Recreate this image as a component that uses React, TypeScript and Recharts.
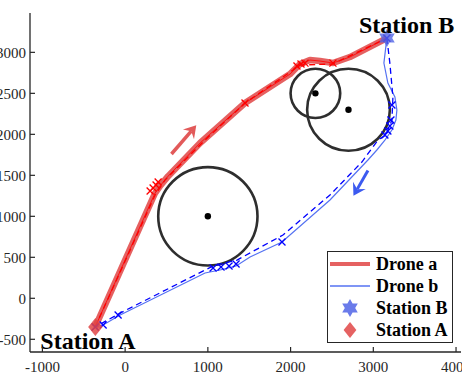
import {
  ComposedChart,
  Line,
  ReferenceArea,
  ReferenceLine,
  Scatter,
  XAxis,
  YAxis,
} from 'recharts'

// axes
const X_TICKS = [-1000, 0, 1000, 2000, 3000, 4000]
const Y_TICKS = [-500, 0, 500, 1000, 1500, 2000, 2500, 3000]
const X_DOMAIN = [-1150, 4060]
const Y_DOMAIN = [-655, 3480]

// stations
const stationA = [{ x: -360, y: -350 }]
const stationB = [{ x: 3165, y: 3175 }]

// obstacles: centre + radius (data units)
const obstacles = [
  { x: 1000, y: 1000, r: 600 },
  { x: 2300, y: 2500, r: 300 },
  { x: 2700, y: 2300, r: 500 },
]

// drone a (A -> B)
const droneAPath = [
  { x: -362, y: -350 },
  { x: 362, y: 1284 },
  { x: 430, y: 1380 },
  { x: 520, y: 1490 },
  { x: 906, y: 1894 },
  { x: 1449, y: 2382 },
  { x: 1993, y: 2735 },
  { x: 2114, y: 2857 },
  { x: 2234, y: 2906 },
  { x: 2355, y: 2894 },
  { x: 2512, y: 2870 },
  { x: 2717, y: 2943 },
  { x: 3164, y: 3174 },
]
const droneAPlan = [
  { x: -362, y: -350 },
  { x: 362, y: 1260 },
  { x: 483, y: 1443 },
  { x: 966, y: 1931 },
  { x: 1449, y: 2382 },
  { x: 2029, y: 2784 },
  { x: 2114, y: 2845 },
  { x: 2512, y: 2858 },
  { x: 3164, y: 3174 },
]
const droneAMarks = [
  { x: -362, y: -350 },
  { x: 302, y: 1308 },
  { x: 338, y: 1345 },
  { x: 374, y: 1382 },
  { x: 399, y: 1418 },
  { x: 1449, y: 2382 },
  { x: 2077, y: 2833 },
  { x: 2126, y: 2857 },
  { x: 2174, y: 2869 },
  { x: 2512, y: 2869 },
  { x: 3164, y: 3174 },
]

// drone b (B -> A)
const droneBPath = [
  { x: 3164, y: 3174 },
  { x: 3128, y: 2869 },
  { x: 3176, y: 2625 },
  { x: 3261, y: 2455 },
  { x: 3285, y: 2296 },
  { x: 3273, y: 2174 },
  { x: 3225, y: 2052 },
  { x: 3140, y: 1930 },
  { x: 3043, y: 1809 },
  { x: 2935, y: 1687 },
  { x: 2476, y: 1199 },
  { x: 1896, y: 687 },
  { x: 1510, y: 504 },
  { x: 1341, y: 394 },
  { x: 1147, y: 345 },
  { x: 966, y: 309 },
  { x: -60, y: -204 },
  { x: -266, y: -326 },
  { x: -362, y: -350 },
]
const droneBPlan = [
  { x: 3164, y: 3174 },
  { x: 3200, y: 2869 },
  { x: 3237, y: 2455 },
  { x: 3225, y: 2174 },
  { x: 3152, y: 1991 },
  { x: 3056, y: 1930 },
  { x: 2862, y: 1662 },
  { x: 2476, y: 1260 },
  { x: 1908, y: 772 },
  { x: 1353, y: 467 },
  { x: 1063, y: 394 },
  { x: -60, y: -180 },
  { x: -362, y: -350 },
]
const droneBMarks = [
  { x: 3164, y: 3174 },
  { x: 3225, y: 2357 },
  { x: 3213, y: 2174 },
  { x: 3200, y: 2101 },
  { x: 3176, y: 2040 },
  { x: 3140, y: 1991 },
  { x: 1896, y: 687 },
  { x: 1063, y: 369 },
  { x: 1159, y: 382 },
  { x: 1256, y: 394 },
  { x: 1341, y: 418 },
  { x: -85, y: -204 },
  { x: -266, y: -326 },
  { x: -362, y: -350 },
]

// direction arrows (tail -> tip)
const arrowA = [{ x: 560, y: 1760 }, { x: 860, y: 2110 }]
const arrowB = [{ x: 2935, y: 1560 }, { x: 2760, y: 1250 }]

const AXIS = '#262626'
const SERIF = '"Liberation Serif", "Times New Roman", serif'
const RED_THICK = 'rgba(222,52,52,0.78)'
const BLUE_THIN = '#5572f2'

const tickStyle = { fontFamily: SERIF, fontSize: 15 }

function BottomTick({ x, y, payload }: any) {
  return (
    <g>
      <line x1={x} y1={y} x2={x} y2={y - 5} stroke={AXIS} strokeWidth={1.2} />
      <text x={x} y={y + 20} textAnchor="middle" fill={AXIS} style={tickStyle}>
        {payload.value}
      </text>
    </g>
  )
}
function LeftTick({ x, y, payload }: any) {
  return (
    <g>
      <line x1={x} y1={y} x2={x + 5} y2={y} stroke={AXIS} strokeWidth={1.2} />
      <text x={x - 4} y={y} dy="0.35em" textAnchor="end" fill={AXIS} style={tickStyle}>
        {payload.value}
      </text>
    </g>
  )
}
function TopTick({ x, y }: any) {
  return <line x1={x} y1={y} x2={x} y2={y + 5} stroke={AXIS} strokeWidth={1.2} />
}
function RightTick({ x, y }: any) {
  return <line x1={x} y1={y} x2={x - 5} y2={y} stroke={AXIS} strokeWidth={1.2} />
}

const xMark = (color: string) => (p: any) => (
  <path
    d={`M${p.cx - 3.5},${p.cy - 3.5}L${p.cx + 3.5},${p.cy + 3.5}M${p.cx - 3.5},${p.cy + 3.5}L${p.cx + 3.5},${p.cy - 3.5}`}
    stroke={color}
    strokeWidth={1.3}
    fill="none"
  />
)

function hexagram(cx: number, cy: number, r: number) {
  const pts: string[] = []
  for (let i = 0; i < 12; i++) {
    const a = -Math.PI / 2 + (i * Math.PI) / 6
    const rr = i % 2 === 0 ? r : r * 0.577
    pts.push(`${cx + rr * Math.cos(a)},${cy + rr * Math.sin(a)}`)
  }
  return pts.join(' ')
}
function diamond(cx: number, cy: number, r: number) {
  return `${cx},${cy - r} ${cx + r * 0.8},${cy} ${cx},${cy + r} ${cx - r * 0.8},${cy}`
}

const labelStyle = { fontFamily: SERIF, fontSize: 24, fontWeight: 700 }

function StationAShape({ cx, cy }: any) {
  return (
    <g>
      <polygon points={diamond(cx, cy, 9)} fill="rgba(225,70,70,0.85)" />
      <text x={cx - 55} y={cy + 22} fill="#000" style={labelStyle}>
        Station A
      </text>
    </g>
  )
}
function StationBShape({ cx, cy }: any) {
  return (
    <g>
      <polygon points={hexagram(cx, cy, 9)} fill="rgba(80,100,230,0.8)" />
      <text x={cx - 28} y={cy - 5} fill="#000" style={labelStyle}>
        Station B
      </text>
    </g>
  )
}
function CentreDot({ cx, cy }: any) {
  return <circle cx={cx} cy={cy} r={3.2} fill="#000" />
}

const circleShape = (p: any) => (
  <ellipse
    cx={p.x + p.width / 2}
    cy={p.y + p.height / 2}
    rx={Math.abs(p.width) / 2}
    ry={Math.abs(p.height) / 2}
    fill="none"
    stroke="#2e2e2e"
    strokeWidth={2.6}
  />
)

const arrowShape = (color: string, w: number) => (p: any) => {
  const { x1, y1, x2, y2 } = p
  const ang = Math.atan2(y2 - y1, x2 - x1)
  const L = 14
  const s = 0.55
  const lx = x2 - L * Math.cos(ang - s)
  const ly = y2 - L * Math.sin(ang - s)
  const rx = x2 - L * Math.cos(ang + s)
  const ry = y2 - L * Math.sin(ang + s)
  const bx = x2 - L * 0.55 * Math.cos(ang)
  const by = y2 - L * 0.55 * Math.sin(ang)
  return (
    <g>
      <line x1={x1} y1={y1} x2={bx} y2={by} stroke={color} strokeWidth={w} />
      <polygon points={`${x2},${y2} ${lx},${ly} ${bx},${by} ${rx},${ry}`} fill={color} />
    </g>
  )
}

function LegendBox() {
  const row = { display: 'flex', alignItems: 'center', height: 22 }
  const txt = { fontFamily: SERIF, fontSize: 18, fontWeight: 700, color: '#000' }
  return (
    <div
      style={{
        position: 'absolute',
        left: 327,
        top: 251,
        width: 124,
        height: 89,
        border: `1px solid ${AXIS}`,
        background: '#fff',
        paddingTop: 1,
        boxSizing: 'content-box',
      }}
    >
      <div style={row}>
        <svg width={46} height={22} style={{ marginLeft: 2 }}>
          <line x1={0} y1={11} x2={40} y2={11} stroke={RED_THICK} strokeWidth={4} />
        </svg>
        <span style={txt}>Drone a</span>
      </div>
      <div style={row}>
        <svg width={46} height={22} style={{ marginLeft: 2 }}>
          <line x1={0} y1={11} x2={40} y2={11} stroke={BLUE_THIN} strokeWidth={1.5} />
        </svg>
        <span style={txt}>Drone b</span>
      </div>
      <div style={row}>
        <svg width={46} height={22} style={{ marginLeft: 2 }}>
          <polygon points={hexagram(20, 11, 9)} fill="rgba(80,100,230,0.85)" />
        </svg>
        <span style={txt}>Station B</span>
      </div>
      <div style={row}>
        <svg width={46} height={22} style={{ marginLeft: 2 }}>
          <polygon points={diamond(20, 11, 8)} fill="rgba(225,70,70,0.85)" />
        </svg>
        <span style={txt}>Station A</span>
      </div>
    </div>
  )
}

export default function App() {
  return (
    <div style={{ position: 'absolute', left: 0, top: 0, width: 462, height: 376, background: '#fff' }}>
      <ComposedChart width={462} height={376} margin={{ top: 13, right: 1, bottom: 0, left: 0 }}>
        <XAxis
          type="number"
          dataKey="x"
          domain={X_DOMAIN}
          ticks={X_TICKS}
          interval={0}
          allowDataOverflow
          height={24}
          tickSize={0}
          tickMargin={0}
          tickLine={false}
          axisLine={{ stroke: AXIS, strokeWidth: 1.3 }}
          tick={<BottomTick />}
        />
        <XAxis
          xAxisId="top"
          orientation="top"
          type="number"
          dataKey="x"
          domain={X_DOMAIN}
          ticks={X_TICKS}
          interval={0}
          allowDataOverflow
          height={0}
          tickSize={0}
          tickMargin={0}
          tickLine={false}
          axisLine={{ stroke: AXIS, strokeWidth: 1.3 }}
          tick={<TopTick />}
        />
        <YAxis
          type="number"
          dataKey="y"
          domain={Y_DOMAIN}
          ticks={Y_TICKS}
          interval={0}
          allowDataOverflow
          width={30}
          tickSize={0}
          tickMargin={0}
          tickLine={false}
          axisLine={{ stroke: AXIS, strokeWidth: 1.3 }}
          tick={<LeftTick />}
        />
        <YAxis
          yAxisId="right"
          orientation="right"
          type="number"
          dataKey="y"
          domain={Y_DOMAIN}
          ticks={Y_TICKS}
          interval={0}
          allowDataOverflow
          width={0}
          tickSize={0}
          tickMargin={0}
          tickLine={false}
          axisLine={{ stroke: AXIS, strokeWidth: 1.3 }}
          tick={<RightTick />}
        />

        {obstacles.map((o, i) => (
          <ReferenceArea
            key={i}
            x1={o.x - o.r}
            x2={o.x + o.r}
            y1={o.y - o.r}
            y2={o.y + o.r}
            shape={circleShape}
          />
        ))}
        <Scatter data={obstacles} shape={CentreDot} isAnimationActive={false} />

        <Line
          data={droneAPath}
          dataKey="y"
          type="linear"
          stroke={RED_THICK}
          strokeWidth={6.5}
          strokeLinejoin="round"
          dot={false}
          isAnimationActive={false}
        />
        <Line
          data={droneAPath}
          dataKey="y"
          type="linear"
          stroke="#ff1010"
          strokeWidth={1}
          dot={false}
          isAnimationActive={false}
        />
        <Line
          data={droneAPlan}
          dataKey="y"
          type="linear"
          stroke="#ff0000"
          strokeWidth={1.3}
          strokeDasharray="6 4"
          dot={false}
          isAnimationActive={false}
        />
        <Scatter data={droneAMarks} shape={xMark('#ff0000')} isAnimationActive={false} />

        <Line
          data={droneBPath}
          dataKey="y"
          type="linear"
          stroke={BLUE_THIN}
          strokeWidth={1.2}
          dot={false}
          isAnimationActive={false}
        />
        <Line
          data={droneBPlan}
          dataKey="y"
          type="linear"
          stroke="#0000ff"
          strokeWidth={1.3}
          strokeDasharray="6 4"
          dot={false}
          isAnimationActive={false}
        />
        <Scatter data={droneBMarks} shape={xMark('#0000ff')} isAnimationActive={false} />

        <ReferenceLine segment={arrowA} shape={arrowShape('#e25a5a', 3.5)} />
        <ReferenceLine segment={arrowB} shape={arrowShape('#3c5af0', 3)} />

        <Scatter data={stationA} shape={StationAShape} isAnimationActive={false} />
        <Scatter data={stationB} shape={StationBShape} isAnimationActive={false} />
      </ComposedChart>
      <LegendBox />
    </div>
  )
}
